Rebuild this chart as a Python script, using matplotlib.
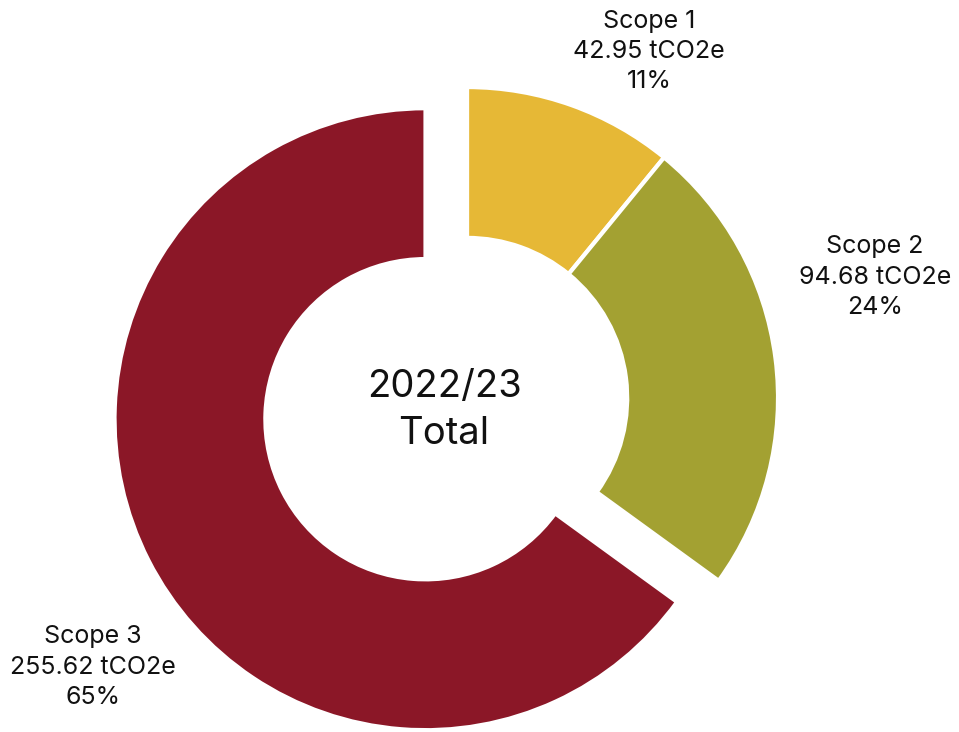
import matplotlib
matplotlib.use("Agg")
import matplotlib.pyplot as plt

plt.rcParams['font.family'] = ['Inter', 'DejaVu Sans']

# emissions 2022/23
scopes = ['Scope 1', 'Scope 2', 'Scope 3']
values = [42.95, 94.68, 255.62]
percents = ['11%', '24%', '65%']
colors = ['#E6B836', '#A3A132', '#8B1727']
explode = [0, 0, 0.15]

fig = plt.figure(figsize=(9.59, 7.32), dpi=100)
ax = fig.add_axes([0, 0, 1, 1])

wedges, _ = ax.pie(values, colors=colors, startangle=90, counterclock=False,
                   explode=explode, radius=1.0,
                   wedgeprops=dict(width=0.485, edgecolor='white', linewidth=3))

ax.set_aspect('equal')
ax.set_xlim(-1.502, 1.582)
ax.set_ylim(-1.074, 1.280)
ax.axis('off')

# label positions (data coords)
label_pos = [(0.585, 1.115), (1.312, 0.389), (-1.203, -0.865)]
for name, v, p, (x, y) in zip(scopes, values, percents, label_pos):
    ax.text(x, y, f"{name}\n{v:.2f} tCO2e\n{p}", ha='center', va='center',
            fontsize=18, linespacing=1.4, color='#111111')

ax.text(-0.074, -0.039, "2022/23\nTotal", ha='center', va='center',
        fontsize=27.5, linespacing=1.4, color='#111111')

fig.savefig('out.png', dpi=100)
